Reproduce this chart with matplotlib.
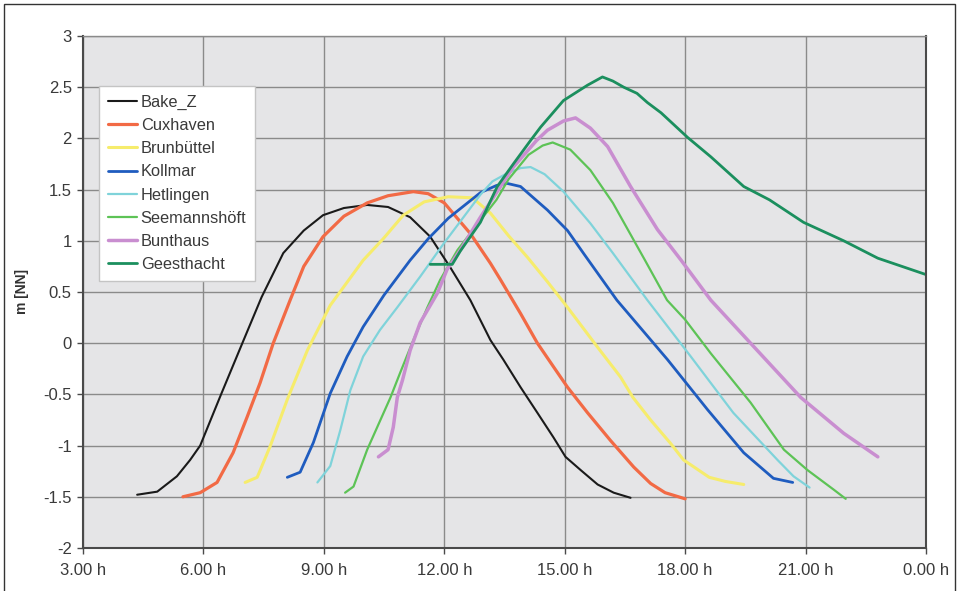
import matplotlib
matplotlib.use('Agg')
import matplotlib.pyplot as plt
from matplotlib.patches import Rectangle

plt.rcParams['font.family'] = ['Liberation Sans', 'DejaVu Sans']

# hours since midnight (24 = 0.00 h next day), water level in m NN
bake_h = [4.35, 4.85, 5.34, 5.67, 5.92, 6.44, 6.97, 7.45, 7.99, 8.5, 8.98, 9.5, 10.08, 10.6,
          11.15, 11.65, 12.15, 12.65, 13.15, 13.47, 13.9, 14.32, 14.72, 15.02, 15.4, 15.82,
          16.22, 16.64]
bake_v = [-1.48, -1.45, -1.30, -1.14, -1.0, -0.5, 0.0, 0.45, 0.88, 1.1, 1.25, 1.32, 1.35, 1.33,
          1.23, 1.04, 0.74, 0.42, 0.03, -0.16, -0.43, -0.68, -0.92, -1.11, -1.24, -1.38,
          -1.46, -1.51]

cux_h = [5.49, 5.92, 6.34, 6.74, 7.09, 7.41, 7.74, 8.16, 8.5, 8.98, 9.5, 10.08, 10.6, 11.23,
         11.6, 12.0, 12.65, 13.15, 13.4, 13.9, 14.32, 14.72, 15.07, 15.57, 16.14, 16.72,
         17.14, 17.5, 18.0]
cux_v = [-1.5, -1.46, -1.36, -1.07, -0.72, -0.39, 0.0, 0.42, 0.75, 1.04, 1.24, 1.37, 1.44, 1.48,
         1.46, 1.37, 1.07, 0.78, 0.62, 0.29, 0.0, -0.23, -0.43, -0.68, -0.95, -1.21,
         -1.37, -1.46, -1.52]

brun_h = [7.04, 7.34, 7.66, 8.09, 8.59, 9.16, 9.98, 10.48, 10.98, 11.5, 12.1, 12.7, 13.15,
          13.6, 14.07, 14.57, 15.07, 15.82, 16.39, 16.7, 17.14, 17.64, 17.96, 18.6, 19.0, 19.46]
brun_v = [-1.36, -1.31, -1.01, -0.55, -0.07, 0.37, 0.81, 1.02, 1.25, 1.38, 1.43, 1.42, 1.27,
          1.05, 0.84, 0.6, 0.35, -0.04, -0.33, -0.53, -0.75, -0.98, -1.14, -1.31, -1.35, -1.38]

koll_h = [8.09, 8.41, 8.74, 9.16, 9.58, 9.98, 10.5, 11.15, 11.6, 12.1, 12.9, 13.3, 13.57, 13.9,
          14.57, 15.07, 15.5, 16.3, 17.56, 18.56, 19.46, 20.2, 20.68]
koll_v = [-1.31, -1.26, -0.97, -0.49, -0.13, 0.16, 0.47, 0.81, 1.02, 1.22, 1.47, 1.54, 1.56,
          1.53, 1.3, 1.1, 0.86, 0.42, -0.16, -0.65, -1.07, -1.32, -1.36]

hetl_h = [8.84, 9.16, 9.41, 9.66, 9.98, 10.4, 10.83, 11.4, 11.98, 12.9, 13.2, 13.57, 13.9, 14.15,
          14.5, 14.97, 15.64, 16.2, 17.06, 18.14, 19.2, 20.3, 20.7, 21.1]
hetl_v = [-1.36, -1.2, -0.85, -0.46, -0.13, 0.13, 0.35, 0.65, 0.97, 1.45, 1.58, 1.66, 1.71, 1.72,
          1.65, 1.48, 1.17, 0.88, 0.42, -0.13, -0.68, -1.14, -1.3, -1.41]

seem_h = [9.53, 9.74, 10.08, 10.33, 10.66, 10.9, 11.23, 11.58, 11.9, 12.33, 12.9, 13.3, 13.6,
          14.1, 14.45, 14.7, 15.14, 15.64, 16.2, 17.0, 17.55, 18.0, 18.64, 19.63, 20.46, 21.05,
          21.7, 22.0]
seem_v = [-1.46, -1.4, -1.04, -0.82, -0.53, -0.29, 0.03, 0.35, 0.62, 0.91, 1.2, 1.4, 1.6,
          1.84, 1.93, 1.96, 1.89, 1.69, 1.37, 0.81, 0.42, 0.23, -0.1, -0.58, -1.04, -1.24,
          -1.43, -1.52]

bunt_h = [10.36, 10.6, 10.73, 10.83, 10.96, 11.15, 11.4, 11.83, 12.07, 12.4, 12.9, 13.72,
          14.3, 14.57, 14.97, 15.27, 15.64, 16.07, 16.64, 17.31, 17.9, 18.64, 19.63, 20.88,
          21.95, 22.8]
bunt_v = [-1.11, -1.04, -0.82, -0.53, -0.36, -0.07, 0.2, 0.49, 0.72, 0.91, 1.23, 1.72,
          1.98, 2.08, 2.17, 2.2, 2.1, 1.92, 1.53, 1.11, 0.81, 0.42, 0.0, -0.53,
          -0.88, -1.11]

gees_h = [11.65, 12.2, 12.4, 12.9, 13.32, 13.72, 14.15, 14.4, 14.97, 15.57, 15.94, 16.2, 16.47,
          16.8, 17.06, 17.4, 18.06, 18.64, 19.46, 20.1, 20.95, 21.95, 22.8, 24.0]
gees_v = [0.77, 0.77, 0.9, 1.18, 1.53, 1.75, 1.98, 2.11, 2.37, 2.52, 2.6, 2.56, 2.5,
          2.44, 2.35, 2.25, 2.01, 1.82, 1.53, 1.4, 1.18, 1.0, 0.83, 0.67]

stations = ['Bake_Z', 'Cuxhaven', 'Brunbüttel', 'Kollmar', 'Hetlingen', 'Seemannshöft',
            'Bunthaus', 'Geesthacht']
hours = [bake_h, cux_h, brun_h, koll_h, hetl_h, seem_h, bunt_h, gees_h]
levels = [bake_v, cux_v, brun_v, koll_v, hetl_v, seem_v, bunt_v, gees_v]
colors = ['#1a1a1a', '#F26A45', '#F6EC6C', '#1F5CBF', '#7FD3DA', '#5DC356', '#C98ED0', '#1B8F5E']
widths = [1.5, 2.3, 2.2, 2.0, 1.6, 1.6, 2.5, 2.0]

x_ticks = [3, 6, 9, 12, 15, 18, 21, 24]
x_labels = ['3.00 h', '6.00 h', '9.00 h', '12.00 h', '15.00 h', '18.00 h', '21.00 h', '0.00 h']
y_ticks = [-2, -1.5, -1, -0.5, 0, 0.5, 1, 1.5, 2, 2.5, 3]
y_labels = ['-2', '-1.5', '-1', '-0.5', '0', '0.5', '1', '1.5', '2', '2.5', '3']

fig = plt.figure(figsize=(9.58, 5.91), dpi=100)
ax = fig.add_axes([0.0866, 0.0728, 0.8800, 0.8663])
ax.set_facecolor('#E5E5E7')

for name, h, v, c, w in zip(stations, hours, levels, colors, widths):
    ax.plot(h, v, color=c, lw=w, label=name, solid_capstyle='round', solid_joinstyle='round')

ax.set_xlim(3, 24)
ax.set_ylim(-2, 3)
ax.set_xticks(x_ticks)
ax.set_xticklabels(x_labels)
ax.set_yticks(y_ticks)
ax.set_yticklabels(y_labels)
ax.grid(True, color='#8a8a8a', lw=1)
ax.set_axisbelow(True)

for s in ['left', 'bottom', 'right']:
    ax.spines[s].set_color('#4a4a4a')
    ax.spines[s].set_linewidth(1.5)
ax.spines['top'].set_color('#8a8a8a')
ax.spines['top'].set_linewidth(1)

ax.tick_params(axis='both', labelsize=12, colors='#4a4a4a', labelcolor='#3a3a3a',
               length=4, width=1)
ax.tick_params(axis='x', pad=7)
ax.tick_params(axis='y', pad=4)
ax.set_ylabel('m [NN]', fontsize=10, fontweight='bold', color='#333333', labelpad=10)

leg = ax.legend(loc='upper left', bbox_to_anchor=(0.019, 0.903), borderaxespad=0,
                fontsize=11.8, frameon=True, fancybox=False, framealpha=1,
                handlelength=1.75, handletextpad=0.25, labelspacing=0.5,
                borderpad=0.55)
leg.get_frame().set_edgecolor('#c4c4c4')
leg.get_frame().set_linewidth(1)
for t in leg.get_texts():
    t.set_color('#3a3a3a')

fig.patches.append(Rectangle((0.004, -0.01), 0.993, 1.0032, transform=fig.transFigure,
                             fill=False, edgecolor='#333333', lw=1))

fig.savefig('out.png', dpi=100)
